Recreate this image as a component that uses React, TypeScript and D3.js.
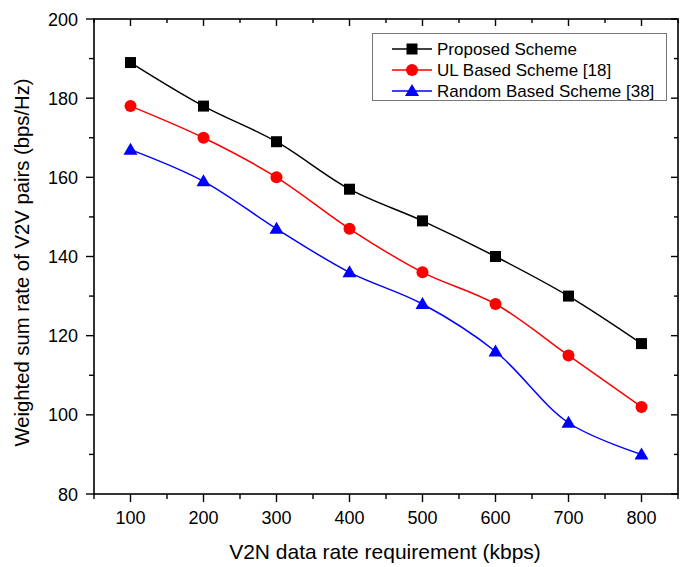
import React, { useRef, useEffect } from 'react';
import * as d3 from 'd3';

const rates = [100, 200, 300, 400, 500, 600, 700, 800];
const proposed = [189, 178, 169, 157, 149, 140, 130, 118];
const ulBased = [178, 170, 160, 147, 136, 128, 115, 102];
const randomBased = [167, 159, 147, 136, 128, 116, 98, 90];
const xTicks = [100, 200, 300, 400, 500, 600, 700, 800];
const yTicks = [80, 100, 120, 140, 160, 180, 200];

const series = [
  { name: 'Proposed Scheme', values: proposed, color: '#000000', marker: 'square' },
  { name: 'UL Based Scheme [18]', values: ulBased, color: '#ff0000', marker: 'circle' },
  { name: 'Random Based Scheme [38]', values: randomBased, color: '#0000ff', marker: 'triangle' },
];

const W = 683;
const H = 567;
const margin = { top: 19, right: 5, bottom: 73, left: 94 };
const font = 'Liberation Sans, Arial, sans-serif';

const App = () => {
  const svgRef = useRef(null);

  useEffect(() => {
    const svg = d3.select(svgRef.current);
    svg.selectAll('*').remove();

    const x = d3.scaleLinear().domain([50, 850]).range([margin.left, W - margin.right]);
    const y = d3.scaleLinear().domain([80, 200]).range([H - margin.bottom, margin.top]);
    const x0 = x.range()[0], x1 = x.range()[1];
    const y0 = y.range()[0], y1 = y.range()[1];

    const minorX = d3.range(50, 851, 50).filter(v => v % 100 !== 0);
    const minorY = d3.range(90, 200, 20);

    // frame
    svg.append('rect')
      .attr('x', x0).attr('y', y1)
      .attr('width', x1 - x0).attr('height', y0 - y1)
      .attr('fill', 'none').attr('stroke', '#000').attr('stroke-width', 1.6);

    const ticks = svg.append('g').attr('stroke', '#000').attr('stroke-width', 1.4);
    // bottom ticks outward, top/right mirrored inward
    xTicks.forEach(v => {
      ticks.append('line').attr('x1', x(v)).attr('x2', x(v)).attr('y1', y0).attr('y2', y0 + 8);
      ticks.append('line').attr('x1', x(v)).attr('x2', x(v)).attr('y1', y1).attr('y2', y1 + 7);
    });
    minorX.forEach(v => {
      ticks.append('line').attr('x1', x(v)).attr('x2', x(v)).attr('y1', y0).attr('y2', y0 + 5);
      ticks.append('line').attr('x1', x(v)).attr('x2', x(v)).attr('y1', y1).attr('y2', y1 + 4);
    });
    yTicks.forEach(v => {
      ticks.append('line').attr('x1', x0 - 8).attr('x2', x0).attr('y1', y(v)).attr('y2', y(v));
      ticks.append('line').attr('x1', x1 - 7).attr('x2', x1).attr('y1', y(v)).attr('y2', y(v));
    });
    minorY.forEach(v => {
      ticks.append('line').attr('x1', x0 - 5).attr('x2', x0).attr('y1', y(v)).attr('y2', y(v));
      ticks.append('line').attr('x1', x1 - 4).attr('x2', x1).attr('y1', y(v)).attr('y2', y(v));
    });

    // tick labels
    svg.append('g').selectAll('text').data(xTicks).enter().append('text')
      .attr('x', d => x(d)).attr('y', y0 + 30)
      .attr('text-anchor', 'middle')
      .style('font-family', font).style('font-size', '18px')
      .text(d => d);
    svg.append('g').selectAll('text').data(yTicks).enter().append('text')
      .attr('x', x0 - 16).attr('y', d => y(d) + 6.5)
      .attr('text-anchor', 'end')
      .style('font-family', font).style('font-size', '18px')
      .text(d => d);

    // axis titles
    svg.append('text')
      .attr('x', 385).attr('y', 559)
      .attr('text-anchor', 'middle')
      .style('font-family', font).style('font-size', '21px')
      .text('V2N data rate requirement (kbps)');
    svg.append('text')
      .attr('transform', 'translate(29,262.5) rotate(-90)')
      .attr('text-anchor', 'middle')
      .style('font-family', font).style('font-size', '20.3px')
      .text('Weighted sum rate of V2V pairs (bps/Hz)');

    const drawMarker = (g, type, cx, cy, color) => {
      if (type === 'square') {
        g.append('rect').attr('x', cx - 5.5).attr('y', cy - 5.5).attr('width', 11).attr('height', 11).attr('fill', color);
      } else if (type === 'circle') {
        g.append('circle').attr('cx', cx).attr('cy', cy).attr('r', 6).attr('fill', color);
      } else {
        g.append('path')
          .attr('d', `M${cx},${cy - 7}L${cx + 7},${cy + 5}L${cx - 7},${cy + 5}Z`)
          .attr('fill', color);
      }
    };

    const line = d3.line().curve(d3.curveCatmullRom.alpha(0.5))
      .x(d => x(d[0])).y(d => y(d[1]));

    series.forEach(s => {
      const pts = rates.map((r, i) => [r, s.values[i]]);
      svg.append('path').attr('d', line(pts))
        .attr('fill', 'none').attr('stroke', s.color).attr('stroke-width', 1.5);
      const g = svg.append('g');
      pts.forEach(p => drawMarker(g, s.marker, x(p[0]), y(p[1]), s.color));
    });

    // legend
    const lg = svg.append('g');
    lg.append('rect').attr('x', 372.5).attr('y', 33.5).attr('width', 294).attr('height', 67)
      .attr('fill', '#fff').attr('stroke', '#777').attr('stroke-width', 1);
    series.forEach((s, i) => {
      const ly = 49 + i * 21;
      lg.append('line').attr('x1', 392).attr('x2', 432).attr('y1', ly).attr('y2', ly)
        .attr('stroke', s.color).attr('stroke-width', 1.5);
      drawMarker(lg, s.marker, 412, ly, s.color);
      lg.append('text').attr('x', 437).attr('y', ly + 6)
        .style('font-family', font).style('font-size', '17px')
        .text(s.name);
    });
  }, []);

  return (
    <svg ref={svgRef} width={W} height={H}
      style={{ position: 'absolute', left: 0, top: 0, background: '#fff' }} />
  );
};

export default App;
